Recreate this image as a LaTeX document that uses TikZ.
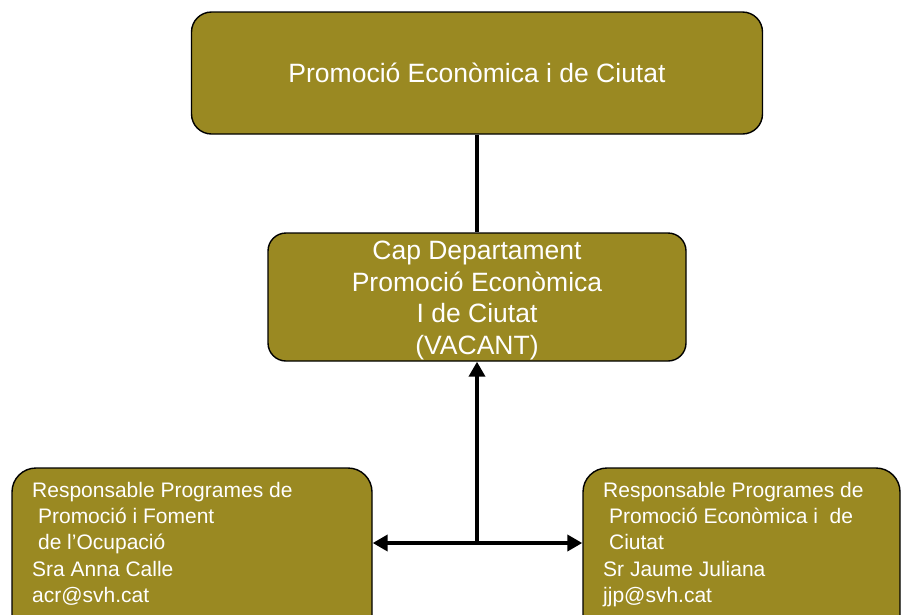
\documentclass[tikz,border=0pt]{standalone}
\usepackage{fontspec}
\setmainfont{Liberation Sans}
\usepackage{tikz}
\usetikzlibrary{arrows.meta}
\definecolor{olivebox}{RGB}{154,137,34}

\begin{document}
\begin{tikzpicture}[x=1pt, y=-1pt,
		unitbox/.style={draw=black, line width=1.4pt, fill=olivebox, rounded corners=#1, inner sep=0pt},
		bigtext/.style={text=white, font=\fontsize{26.5}{31.7}\selectfont, inner sep=0pt, align=center},
		smalltext/.style={text=white, font=\fontsize{21}{26.3}\selectfont, inner sep=0pt, align=left},
		link/.style={line width=4.5pt},
		headtip/.style={-{Triangle[length=15pt, width=16pt]}}]
			%%%%% START %%%%%
			
			\clip (0, 0) rectangle (904, 614);
			
			\node[unitbox=20pt, minimum width=571, minimum height=122, bigtext] (area) at (477, 73) {Promoció Econòmica i de Ciutat};
			
			\node[unitbox=18pt, minimum width=418, minimum height=128] (cap) at (477, 297) {};
			
			\node[unitbox=24pt, minimum width=360, minimum height=180] (ocup) at (192, 558) {};
			\node[unitbox=24pt, minimum width=317, minimum height=180] (ciutat) at (741.5, 558) {};
			
			\coordinate (split) at (477, 543);
			
			\draw[link] (area.south) -- (cap.north);
			\draw[link, headtip] (split) -- (cap.south);
			\draw[link, {Triangle[length=15pt, width=16pt]}-{Triangle[length=15pt, width=16pt]}] (split -| ocup.east) -- (split -| ciutat.west);
			
			\node[bigtext, anchor=north] (captext) at (477, 240.7) {Cap Departament\\Promoció Econòmica\\I de Ciutat\\(VACANT)};
			
			\node[smalltext, anchor=north west] (ocuptext) at (32, 481.8) {Responsable Programes de\\\hspace*{.28em}Promoció i Foment\\\hspace*{.28em}de l’Ocupació\\Sra Anna Calle\\acr@svh.cat};
			\node[smalltext, anchor=north west] (ciutattext) at (603, 481.8) {Responsable Programes de\\\hspace*{.28em}Promoció Econòmica i \ de\\\hspace*{.28em}Ciutat\\Sr Jaume Juliana\\jjp@svh.cat};
			
			%%%%% END %%%%%
		\end{tikzpicture}
\end{document}
